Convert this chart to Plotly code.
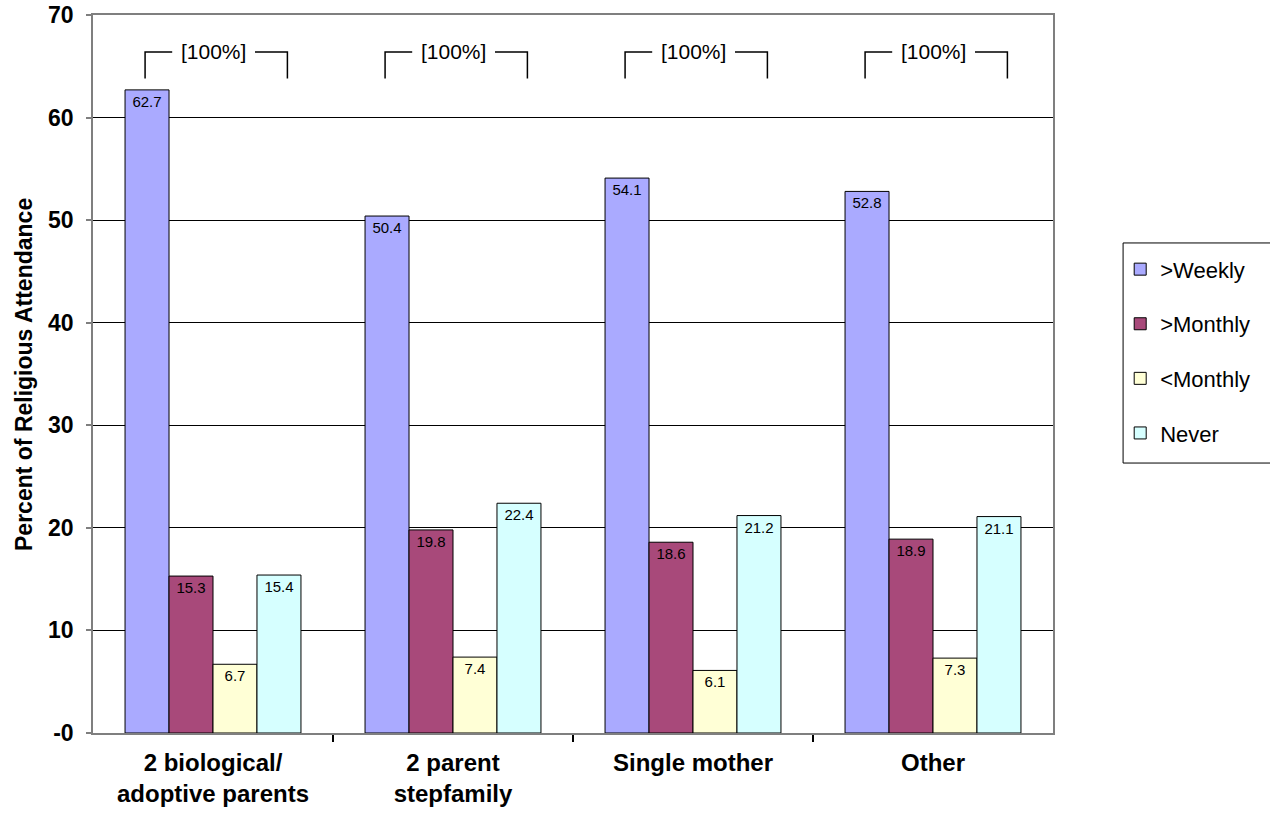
import plotly.graph_objects as go

categories = ["2 biological/<br>adoptive parents", "2 parent<br>stepfamily", "Single mother", "Other"]
series_names = [">Weekly", ">Monthly", "<Monthly", "Never"]
weekly = [62.7, 50.4, 54.1, 52.8]
monthly = [15.3, 19.8, 18.6, 18.9]
less_monthly = [6.7, 7.4, 6.1, 7.3]
never = [15.4, 22.4, 21.2, 21.1]
group_totals = ["[100%]", "[100%]", "[100%]", "[100%]"]
y_ticks = [0, 10, 20, 30, 40, 50, 60, 70]
y_ticktext = ["-0", "10", "20", "30", "40", "50", "60", "70"]
y_title = "Percent of Religious Attendance"

colors = ["#AAAAFF", "#A8497A", "#FFFFD6", "#D6FFFF"]
series_values = [weekly, monthly, less_monthly, never]

FONT = "Liberation Sans, Arial"
x_idx = list(range(len(categories)))

fig = go.Figure()
for i, (name, vals, col) in enumerate(zip(series_names, series_values, colors)):
    fig.add_trace(go.Bar(
        x=x_idx, y=vals, name=name,
        marker=dict(color=col, line=dict(color="#000000", width=1)),
        text=[f"{v:.1f}" for v in vals],
        textposition="inside", insidetextanchor="end",
        textfont=dict(family=FONT, size=15, color="#000000"),
        textangle=0,
        legendgroup=f"g{i}",
    ))

shapes = []
annotations = []
bracket_top = 66.4
bracket_bottom = 63.8
for i, lbl in enumerate(group_totals):
    shapes.append(dict(type="path", xref="x", yref="y",
                       path=f"M {i-0.283},{bracket_bottom} L {i-0.283},{bracket_top} L {i-0.17},{bracket_top}",
                       line=dict(color="#000000", width=1.5)))
    shapes.append(dict(type="path", xref="x", yref="y",
                       path=f"M {i+0.175},{bracket_top} L {i+0.31},{bracket_top} L {i+0.31},{bracket_bottom}",
                       line=dict(color="#000000", width=1.5)))
    annotations.append(dict(x=i, y=bracket_top, xref="x", yref="y", text=lbl,
                            showarrow=False, yanchor="middle",
                            font=dict(family=FONT, size=21, color="#000000")))

# y-axis title
annotations.append(dict(x=-0.0719, y=0.5, xref="paper", yref="paper", text=f"<b>{y_title}</b>",
                        showarrow=False, textangle=-90, xanchor="center", yanchor="middle",
                        font=dict(family=FONT, size=23, color="#000000")))

# legend box
shapes.append(dict(type="rect", xref="paper", yref="paper",
                   x0=1.073, x1=1.3, y0=0.376, y1=0.6825,
                   line=dict(color="#000000", width=1), fillcolor="rgba(0,0,0,0)"))

fig.update_layout(
    width=1270, height=816,
    margin=dict(l=93, r=217, t=15, b=83, autoexpand=False),
    paper_bgcolor="#FFFFFF", plot_bgcolor="#FFFFFF",
    barmode="group", bargap=0.267, bargroupgap=0,
    font=dict(family=FONT, color="#000000"),
    shapes=shapes, annotations=annotations,
    showlegend=True,
    legend=dict(x=1.07, y=0.675, xanchor="left", yanchor="top",
                font=dict(size=22, family=FONT),
                traceorder="grouped", tracegroupgap=23,
                bgcolor="rgba(0,0,0,0)", borderwidth=0),
    xaxis=dict(range=[-0.5, 3.5], tickvals=x_idx, ticktext=categories,
               ticks="", showgrid=False, zeroline=False, automargin=False,
               showline=True, linecolor="#7F7F7F", linewidth=1.5, mirror=True,
               tickfont=dict(size=24, family=FONT, color="#000000", weight="bold"),
               ticklabelstandoff=7,
               minor=dict(tickmode="array", tickvals=[0.5, 1.5, 2.5], ticks="outside",
                          ticklen=7, tickcolor="#000000", tickwidth=1.5, showgrid=False)),
    yaxis=dict(range=[0, 70], tickvals=y_ticks, ticktext=y_ticktext,
               ticks="outside", ticklen=5, tickcolor="#7F7F7F", tickwidth=1.5,
               showgrid=True, gridcolor="#000000", gridwidth=1, zeroline=False,
               automargin=False, ticklabeloverflow="allow",
               showline=True, linecolor="#7F7F7F", linewidth=1.5, mirror=True,
               tickfont=dict(size=23, family=FONT, color="#000000", weight="bold"),
               ticklabelstandoff=8),
)

fig.write_html("out.html", config={"displayModeBar": False},
               post_script="document.body.style.margin='0';document.body.style.overflow='hidden';")
